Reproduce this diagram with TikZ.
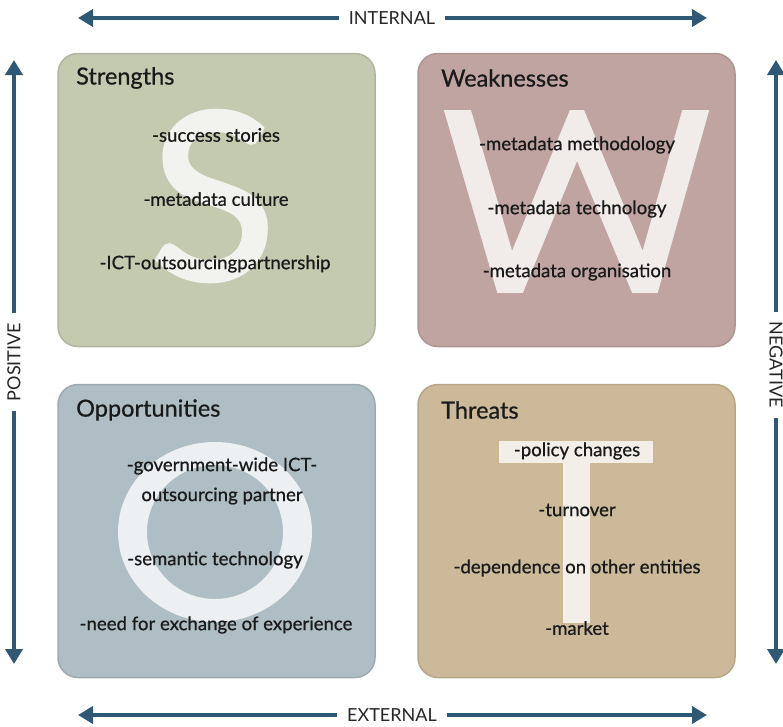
\documentclass[tikz,border=0pt]{standalone}
\usepackage{fontspec}
\setmainfont{Lato}
\newfontfamily\swotfont{Lato}[FakeBold=0.7]
\newfontfamily\swotbigfont{Lato}[FakeBold=2]
\usetikzlibrary{arrows.meta}
\definecolor{axis}{HTML}{2E5873}
\definecolor{sfill}{HTML}{C4CAB0}
\definecolor{wfill}{HTML}{C0A4A1}
\definecolor{ofill}{HTML}{AFBEC4}
\definecolor{tfill}{HTML}{CCB999}
\definecolor{ink}{HTML}{1A1A1A}
\begin{document}
\begin{tikzpicture}[x=1pt,y=1pt,
  quad/.style={rounded corners=20pt, minimum width=317pt, minimum height=293pt,
    inner sep=0pt, draw=#1!90!black, line width=1.5pt, fill=#1},
  title/.style={font=\swotfont\fontsize{23.5}{23.5}\selectfont, text=ink, anchor=west, inner sep=0pt},
  item/.style={font=\swotfont\fontsize{18.6}{18.6}\selectfont, text=ink, inner sep=0pt},
  axislabel/.style={font=\fontsize{18}{18}\selectfont, text=black!85, inner sep=10pt},
  axisline/.style={draw=axis, line width=4.5pt, -{Triangle[length=15pt,width=17pt]}},
  glyph/.style={fill=white, fill opacity=0.78, draw=none},
  bigletter/.style={text=sfill!22!white, inner sep=0pt,
    font=\swotbigfont\fontsize{232}{232}\selectfont}
]
\useasboundingbox (0,0) rectangle (783,-726);

% quadrants
\node[quad=sfill] (S) at (216.5,-200) {};
\node[quad=wfill] (W) at (576.5,-200) {};
\node[quad=ofill] (O) at (216.5,-531) {};
\node[quad=tfill] (T) at (576.5,-531) {};

% large background letters
\node[bigletter] (Sbig) at (213,-196) {S};
\begin{scope}
  \clip (420,-110) rectangle (733,-292);
  \draw[white, opacity=0.78, line width=26pt, miter limit=20]
    (453,-95) -- (510,-290) -- (577,-127) -- (645,-290) -- (700,-95);
\end{scope}
\path[glyph, even odd rule] (215,-532) ellipse [x radius=97, y radius=90]
                            (215,-532) ellipse [x radius=68, y radius=67];
\path[glyph] (499,-441) rectangle (653,-463);
\path[glyph] (563,-463) rectangle (590,-623);

% titles
\node[title] (St) at (76,-78) {Strengths};
\node[title] (Wt) at (441,-78) {Weaknesses};
\node[title] (Ot) at (76,-410) {Opportunities};
\node[title] (Tt) at (441,-410) {Threats};

% items
\node[item] (s1) at (216,-135) {-success stories};
\node[item] (s2) at (216,-199) {-metadata culture};
\node[item] (s3) at (215,-264) {-ICT-outsourcingpartnership};

\node[item] (w1) at (577,-145) {-metadata methodology};
\node[item] (w2) at (577,-209) {-metadata technology};
\node[item] (w3) at (577,-272) {-metadata organisation};

\node[item] (o1) at (222,-466) {-government-wide ICT-};
\node[item] (o2) at (222,-496) {outsourcing partner};
\node[item] (o3) at (215,-560) {-semantic technology};
\node[item] (o4) at (216,-625) {-need for exchange of experience};

\node[item] (t1) at (577,-451) {-policy changes};
\node[item] (t2) at (577,-510) {-turnover};
\node[item] (t3) at (577,-568) {-dependence on other entities};
\node[item] (t4) at (577,-628) {-market};

% axes
\coordinate (tl) at (78,-18);
\coordinate (tr) at (707,-18);
\node[axislabel] (internal) at (392,-18) {INTERNAL};
\draw[axisline] (internal.west) -- (tl);
\draw[axisline] (internal.east) -- (tr);

\coordinate (bl) at (78,-715);
\coordinate (br) at (707,-715);
\node[axislabel] (external) at (392,-715) {EXTERNAL};
\draw[axisline] (external.west) -- (bl);
\draw[axisline] (external.east) -- (br);

\coordinate (lt) at (14,-60);
\coordinate (lb) at (14,-664);
\node[axislabel, rotate=90] (positive) at (14,-362) {POSITIVE};
\draw[axisline] (positive.east) -- (lt);
\draw[axisline] (positive.west) -- (lb);

\coordinate (rt) at (776,-60);
\coordinate (rb) at (776,-664);
\node[axislabel, rotate=-90] (negative) at (776,-365) {NEGATIVE};
\draw[axisline] (negative.west) -- (rt);
\draw[axisline] (negative.east) -- (rb);
\end{tikzpicture}
\end{document}
